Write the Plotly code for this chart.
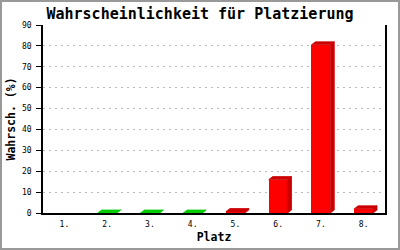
import plotly.graph_objects as go

# ---- data ----
places = ["1.", "2.", "3.", "4.", "5.", "6.", "7.", "8."]
probabilities = [None, 0, 0, 0, 0.7, 16, 80.5, 2]   # Wahrscheinlichkeit in %
groups = [None, "g", "g", "g", "r", "r", "r", "r"]   # colour group per place
y_ticks = [0, 10, 20, 30, 40, 50, 60, 70, 80, 90]

# ---- style ----
W, H = 400, 250
ML, MR, MT, MB = 43, 15, 25, 37
PW, PH = W - ML - MR, H - MT - MB
X_RANGE = [0.5, 8.5]
Y_RANGE = [0, 90]
BAR_W = 0.44
DEPTH_X_PX, DEPTH_Y_PX = 4, 3
dx = DEPTH_X_PX * (X_RANGE[1] - X_RANGE[0]) / PW
dy = DEPTH_Y_PX * (Y_RANGE[1] - Y_RANGE[0]) / PH
FRONT = {"g": "#00ff00", "r": "#ff0000"}
SHADE = {"g": "#00cc00", "r": "#cc0000"}
MONO = "DejaVu Sans Mono, Liberation Mono, monospace"

xs = list(range(1, len(places) + 1))

fig = go.Figure()

for x, v, g in zip(xs, probabilities, groups):
    if v is None:
        continue
    # side face
    fig.add_trace(go.Scatter(
        x=[x + BAR_W / 2, x + BAR_W / 2 + dx, x + BAR_W / 2 + dx, x + BAR_W / 2, x + BAR_W / 2],
        y=[0, dy, v + dy, v, 0],
        fill="toself", fillcolor=SHADE[g], mode="lines", line=dict(width=0.8, color=SHADE[g]),
        hoverinfo="skip", showlegend=False))
    # top face
    fig.add_trace(go.Scatter(
        x=[x - BAR_W / 2, x + BAR_W / 2, x + BAR_W / 2 + dx, x - BAR_W / 2 + dx, x - BAR_W / 2],
        y=[v, v, v + dy, v + dy, v],
        fill="toself", fillcolor=SHADE[g], mode="lines", line=dict(width=0.8, color=SHADE[g]),
        hoverinfo="skip", showlegend=False))

# front faces
fig.add_trace(go.Bar(
    x=xs, y=[0 if v is None else v for v in probabilities],
    width=BAR_W,
    marker=dict(color=[FRONT[g] if g else "rgba(0,0,0,0)" for g in groups], line=dict(width=0)),
    showlegend=False, hoverinfo="skip"))

# image border
fig.add_shape(type="rect", xref="paper", yref="paper",
              x0=-(ML - 1) / PW, x1=1 + (MR - 1) / PW,
              y0=-(MB - 1) / PH, y1=1 + (MT - 1) / PH,
              line=dict(color="#999999", width=2), layer="above")

fig.update_layout(
    width=W, height=H,
    margin=dict(l=ML, r=MR, t=MT, b=MB, pad=0, autoexpand=False),
    paper_bgcolor="white", plot_bgcolor="white",
    bargap=0,
    title=dict(text="<b>Wahrscheinlichkeit für Platzierung</b>",
               font=dict(family=MONO, size=15, color="black"),
               x=0.5, xanchor="center", y=1 - 14 / H, yanchor="middle"),
    xaxis=dict(range=X_RANGE, tickmode="array", tickvals=xs, ticktext=places,
               automargin=False,
               showgrid=False, zeroline=False, showline=True, linecolor="black",
               linewidth=1.5, ticks="", ticklabelstandoff=3,
               tickfont=dict(family=MONO, size=8, color="black"),
               title=dict(text="<b>Platz</b>", font=dict(family=MONO, size=11.5, color="black"),
                          standoff=5)),
    yaxis=dict(range=Y_RANGE, tickmode="array", tickvals=y_ticks,
               automargin=False,
               showgrid=True, gridcolor="#bbbbbb", griddash="2px,4px", gridwidth=1,
               zeroline=False, showline=True, mirror=True, linecolor="black", linewidth=1.5,
               ticks="outside", ticklen=5, tickcolor="black", tickwidth=1,
               ticklabelstandoff=3,
               tickfont=dict(family=MONO, size=8, color="black"),
               title=dict(text="<b>Wahrsch. (%)</b>", font=dict(family=MONO, size=11.5, color="black"),
                          standoff=4)),
)

fig.write_html("out.html")
